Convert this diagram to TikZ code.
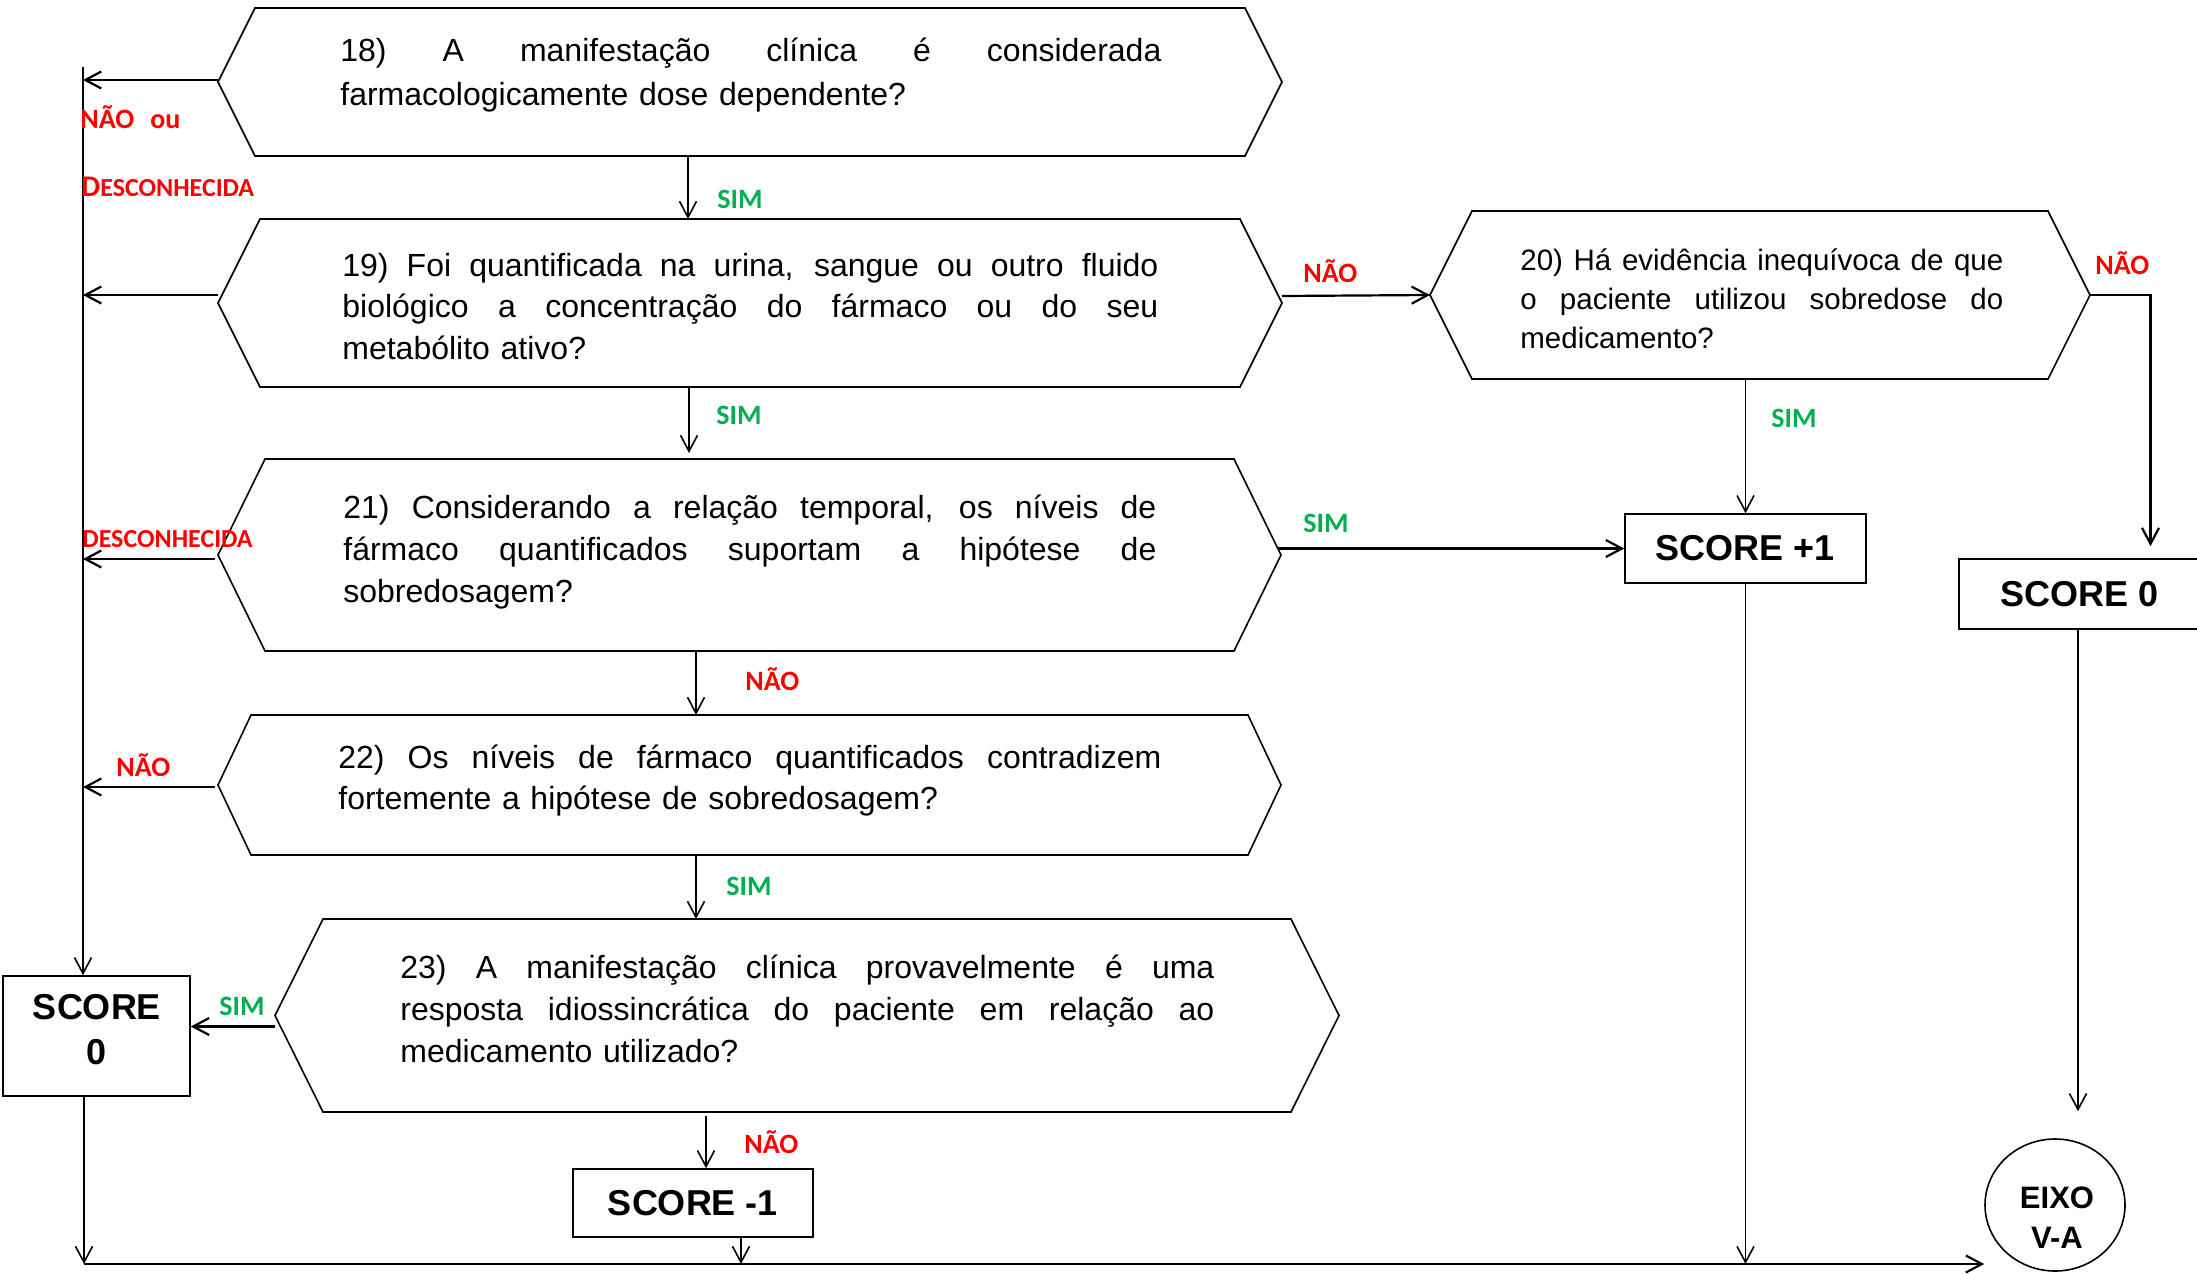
\documentclass[tikz,border=0pt]{standalone}
\usepackage{fontspec}
\setmainfont{Liberation Sans}
\newfontfamily\lblfont{Carlito}
\usetikzlibrary{arrows.meta,calc,shapes.geometric}

\definecolor{naored}{RGB}{255,0,0}
\definecolor{simgreen}{RGB}{0,176,80}

% a justified line of the given width, and a plain last line
\newcommand\jline[2]{\hbox to #1{\spaceskip=0.278em plus 1fil\relax #2}}
\newcommand\lline[1]{\hbox{#1}}
% hexagonal question frame around an (empty) sizing node
\newcommand\hexagonof[2]{%
  \draw[hexline] (#1.west) -- ($(#1.north west)+(#2,0)$) -- ($(#1.north east)+(-#2,0)$)
    -- (#1.east) -- ($(#1.south east)+(-#2,0)$) -- ($(#1.south west)+(#2,0)$) -- cycle;}

\tikzset{
  hexframe/.style={inner sep=0pt, outer sep=0pt},
  hexline/.style={draw=black, line width=0.8pt, line join=miter},
  qtext/.style={anchor=base west, inner sep=0pt, font=\fontsize{16}{21}\selectfont},
  scorebox/.style={draw, line width=0.8pt, inner sep=0pt, align=center,
                   font=\fontsize{18}{22.5}\selectfont\bfseries},
  arr/.style={line width=0.8pt, -{Straight Barb[length=8pt,width=8.5pt]}},
  sarr/.style={arr, line width=1.1pt},
  yes/.style={font=\lblfont\bfseries\fontsize{14}{16}\selectfont, text=simgreen, anchor=base west, inner sep=0pt},
  no/.style={font=\lblfont\bfseries\fontsize{14}{16}\selectfont, text=naored, anchor=base west, inner sep=0pt},
}

\begin{document}
\begin{tikzpicture}[x=0.5pt,y=-0.5pt]
\useasboundingbox (0,0) rectangle (2197,1275);
\fill[white] (0,0) rectangle (2197,1275);
\clip (0,0) rectangle (2197,1275);

% ---- question frames ----
\node[hexframe, minimum width=532pt, minimum height=74pt] (b18) at (750,82) {};
\node[hexframe, minimum width=532pt, minimum height=84pt] (b19) at (750,303) {};
\node[hexframe, minimum width=330pt, minimum height=84pt] (b20) at (1760,295) {};
\node[hexframe, minimum width=531.5pt, minimum height=96pt] (b21) at (749.5,555) {};
\node[hexframe, minimum width=531.5pt, minimum height=70pt] (b22) at (749.5,785) {};
\node[hexframe, minimum width=532pt, minimum height=96.5pt] (b23) at (807,1015.5) {};
\hexagonof{b18}{37}
\hexagonof{b19}{42}
\hexagonof{b20}{42}
\hexagonof{b21}{47}
\hexagonof{b22}{33}
\hexagonof{b23}{48}

% ---- question texts ----
\node[qtext, text width=410.5pt, font=\fontsize{16}{22}\selectfont] (t18) at (340,61)
  {\jline{410.5pt}{18) A manifestação clínica é considerada}
   \lline{farmacologicamente dose dependente?}};
\node[qtext, text width=408pt, font=\fontsize{16}{20.75}\selectfont] (t19) at (342,276)
  {\jline{408pt}{19) Foi quantificada na urina, sangue ou outro fluido}
   \jline{408pt}{biológico a concentração do fármaco ou do seu}
   \lline{metabólito ativo?}};
\node[qtext, text width=241.5pt, font=\fontsize{14.75}{19.5}\selectfont] (t20) at (1520,270)
  {\jline{241.5pt}{20) Há evidência inequívoca de que}
   \jline{241.5pt}{o paciente utilizou sobredose do}
   \lline{medicamento?}};
\node[qtext, text width=406.5pt] (t21) at (343,518)
  {\jline{406.5pt}{21) Considerando a relação temporal, os níveis de}
   \jline{406.5pt}{fármaco quantificados suportam a hipótese de}
   \lline{sobredosagem?}};
\node[qtext, text width=411.5pt, font=\fontsize{16}{20.5}\selectfont] (t22) at (338,768)
  {\jline{411.5pt}{22) Os níveis de fármaco quantificados contradizem}
   \lline{fortemente a hipótese de sobredosagem?}};
\node[qtext, text width=407pt] (t23) at (400,978)
  {\jline{407pt}{23) A manifestação clínica provavelmente é uma}
   \jline{407pt}{resposta idiossincrática do paciente em relação ao}
   \lline{medicamento utilizado?}};

% ---- result boxes ----
\node[scorebox, minimum width=93.5pt, minimum height=60pt] (s0l) at (96.5,1036) {};
\node[font=\fontsize{18}{22.5}\selectfont\bfseries, align=center, inner sep=0pt] (s0lt) at (97,1030) {SCORE\\0};
\node[scorebox, minimum width=120.5pt, minimum height=34.5pt] (sp1) at (1745.5,548.5) {SCORE +1};
\node[scorebox, minimum width=120.5pt, minimum height=35pt] (s0r) at (2079.5,594) {SCORE 0};
\node[scorebox, minimum width=120pt, minimum height=34pt] (sm1) at (693,1203) {SCORE -1};
\node[ellipse, draw, line width=0.8pt, minimum width=70pt, minimum height=66pt, inner sep=0pt] (eixo) at (2055,1205) {};
\node[font=\fontsize{15.5}{20}\selectfont\bfseries, align=center, inner sep=0pt] (eixot) at (2057,1218) {EIXO\\V-A};

% ---- helper points ----
\coordinate (trunkTop) at (83,67);
\coordinate (bl) at (84,1264);
\coordinate (a18) at ($(b18.west)+(0,-2)$);
\coordinate (a19) at ($(b19.west)+(0,-8)$);
\coordinate (a21) at ($(b21.west)+(-3,4)$);
\coordinate (a22) at ($(b22.west)+(-3,2)$);
\coordinate (a23) at ($(b23.west)+(0,11)$);
\coordinate (v1) at ($(b19.north)+(-62,0)$);
\coordinate (v2) at ($(b21.north)+(-60.5,-6)$);
\coordinate (v3) at ($(b22.north)+(-53.5,0)$);
\coordinate (v4) at ($(b23.north)+(-111,0)$);
\coordinate (n23) at ($(sm1.north)+(13,0)$);
\coordinate (n23s) at ($(n23 |- b23.south)+(0,4)$);
\coordinate (m1) at ($(sm1.south)+(48,0)$);
\coordinate (e0) at ($(eixo.north)+(23,-27)$);
\coordinate (r20) at ($(s0r.north)+(71,-12)$);
\coordinate (h19) at ($(b19.east)+(0,-7)$);
\coordinate (h21) at (b21.east |- sp1.west);
\coordinate (h21s) at ($(h21)+(-3,0)$);

% ---- connectors ----
\draw[arr] (trunkTop) -- (trunkTop |- s0l.north);
\draw[sarr] (a18) -- (a18 -| trunkTop);
\draw[sarr] (a19) -- (a19 -| trunkTop);
\draw[sarr] (a21) -- (a21 -| trunkTop);
\draw[sarr] (a22) -- (a22 -| trunkTop);
\draw[sarr] (a23) -- (a23 -| s0l.east);
\draw[arr] (v1 |- b18.south) -- (v1);
\draw[arr] (v2 |- b19.south) -- (v2);
\draw[arr] (v3 |- b21.south) -- (v3);
\draw[arr] (v4 |- b22.south) -- (v4);
\draw[arr] (n23s) -- (n23);
\draw[arr] (m1) -- (m1 |- bl);
\draw[arr] (bl |- s0l.south) -- (bl);
\draw[sarr] (bl) -- (bl -| eixo.west);
\draw[arr] (sp1.south) -- (sp1.south |- bl);
\draw[arr] (e0 |- s0r.south) -- (e0);
\draw[sarr] (h19) -- (b20.west);
\draw[sarr] (b20.east) -| (r20);
\draw[sarr] (h21s) -- (sp1.west);
\draw[arr] (sp1.north |- b20.south) -- (sp1.north);

% ---- branch labels ----
\node[no] (l1) at (80,128) {NÃO\hspace{8pt}ou};
\node[no] (l2) at (81,196) {{\fontsize{15}{16}\selectfont D}{\fontsize{13}{16}\selectfont ESCONHECIDA}};
\node[no, font=\lblfont\bfseries\fontsize{13}{16}\selectfont] (l3) at (82,547) {DESCONHECIDA};
\node[no] (l4) at (116,776) {NÃO};
\node[yes] (l5) at (219,1015) {SIM};
\node[yes] (l6) at (717,208) {SIM};
\node[yes] (l7) at (716,424) {SIM};
\node[no] (l8) at (745,690) {NÃO};
\node[yes] (l9) at (726,895) {SIM};
\node[no] (l10) at (744,1153) {NÃO};
\node[no] (l11) at (1303,282) {NÃO};
\node[no] (l12) at (2095,274) {NÃO};
\node[yes] (l13) at (1771,427) {SIM};
\node[yes] (l14) at (1303,532) {SIM};
\end{tikzpicture}
\end{document}
